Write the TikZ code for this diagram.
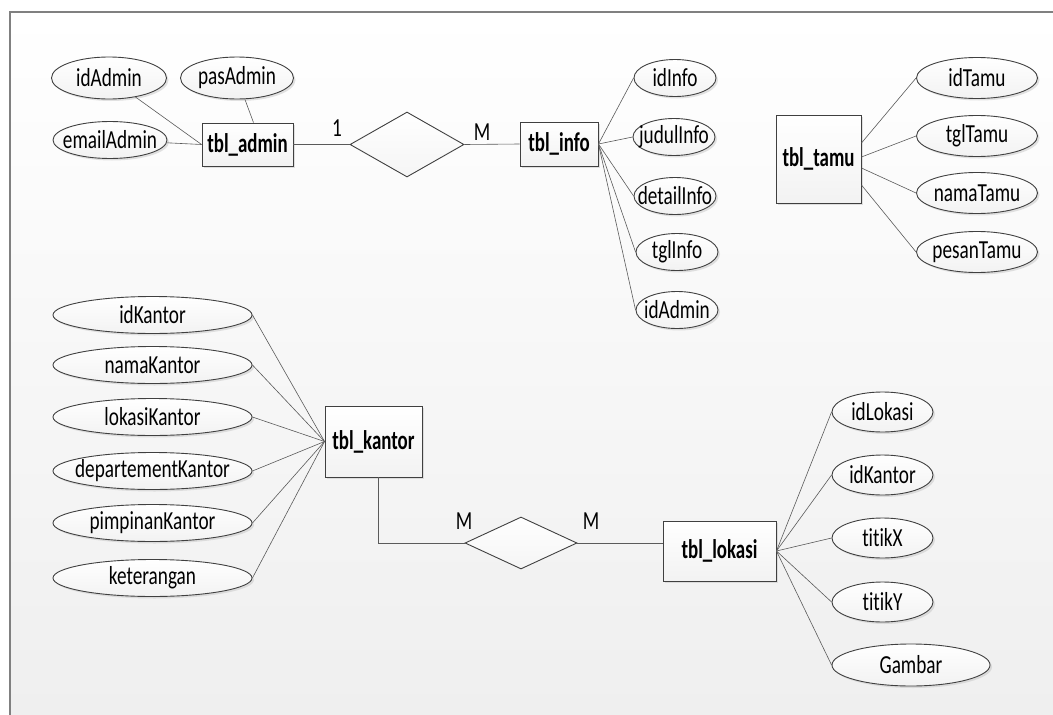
\documentclass[tikz,border=0pt]{standalone}
\usepackage{fontspec}
\setmainfont{Carlito}[FakeStretch=0.74, Ligatures=NoCommon]
\newfontfamily\entityfont{Carlito}[FakeStretch=0.70, Ligatures=NoCommon]
\usetikzlibrary{shapes.geometric,shadows}
% zero-width text so that an attribute ellipse keeps its set size
\newcommand{\attrtext}[1]{\makebox[0pt]{#1}}
\definecolor{edgegray}{RGB}{64,64,64}
\definecolor{linkgray}{RGB}{90,90,90}
\definecolor{framegray}{RGB}{128,128,128}
\definecolor{bglow}{RGB}{239,239,239}
\begin{document}
\begin{tikzpicture}[x=1pt,y=-1pt,
  every node/.style={font=\fontsize{26}{29}\selectfont, text=black},
  softshadow/.style={drop shadow={shadow xshift=2pt, shadow yshift=-2pt, fill=black!25, opacity=0.45}},
  entity/.style={rectangle, draw=edgegray, line width=0.9pt, top color=white, bottom color=black!5,
    inner sep=0pt, softshadow, font=\entityfont\fontsize{27}{30}\selectfont\bfseries},
  attr/.style={ellipse, draw=edgegray, line width=0.9pt, top color=white, bottom color=black!5,
    inner sep=0pt, softshadow},
  rel/.style={diamond, draw=edgegray, line width=0.9pt, top color=white, bottom color=black!4, inner sep=0pt},
  link/.style={draw=linkgray, line width=0.6pt},
  card/.style={inner sep=0pt}
]
\useasboundingbox (0,0) rectangle (1053,715);
% canvas
\shade[top color=white, bottom color=bglow] (10,12) rectangle (1053,715);
\draw[framegray, line width=1.3pt] (10,715) -- (10,12) -- (1053,12);

% ---- tbl_admin ----
\node[attr, minimum width=115, minimum height=42] (idAdmin) at (109,78) {\attrtext{idAdmin}};
\node[attr, minimum width=113, minimum height=42] (pasAdmin) at (237,78) {\attrtext{pasAdmin}};
\node[attr, minimum width=114, minimum height=37] (emailAdmin) at (110,140) {\attrtext{emailAdmin}};
\node[entity, minimum width=91, minimum height=43] (admin) at (247.5,144.5) {tbl\_admin};

% ---- relationship admin - info ----
\node[rel, minimum width=114, minimum height=65] (rel1) at (407,144.5) {};
\node[card] (c1) at (337,128) {1};
\node[card] (c2) at (482,132) {M};

% ---- tbl_info ----
\node[entity, minimum width=78, minimum height=44] (info) at (559,144) {tbl\_info};
\begin{scope}[every node/.append style={attr, minimum width=82, minimum height=37}]
\node (idInfo) at (675,78) {\attrtext{idInfo}};
\node (judulInfo) at (674,137) {\attrtext{judulInfo}};
\node (detailInfo) at (675,196) {\attrtext{detailInfo}};
\node (tglInfo) at (677,252) {\attrtext{tglInfo}};
\node (idAdminInfo) at (677,310) {\attrtext{idAdmin}};
\end{scope}

% ---- tbl_tamu ----
\node[entity, minimum width=85, minimum height=88] (tamu) at (818.5,159) {tbl\_tamu};
\begin{scope}[every node/.append style={attr, minimum width=121, minimum height=41}]
\node (idTamu) at (977,78) {\attrtext{idTamu}};
\node (tglTamu) at (977,136) {\attrtext{tglTamu}};
\node (namaTamu) at (977,193) {\attrtext{namaTamu}};
\node (pesanTamu) at (977,252) {\attrtext{pesanTamu}};
\end{scope}

% ---- tbl_kantor ----
\node[entity, minimum width=97, minimum height=71] (kantor) at (373.5,441.5) {tbl\_kantor};
\begin{scope}[every node/.append style={attr, minimum width=199, minimum height=37}]
\node (idKantor) at (152.5,315) {\attrtext{idKantor}};
\node (namaKantor) at (152.5,365) {\attrtext{namaKantor}};
\node (lokasiKantor) at (152.5,417) {\attrtext{lokasiKantor}};
\node (departementKantor) at (152.5,471) {\attrtext{departementKantor}};
\node (pimpinanKantor) at (152.5,523) {\attrtext{pimpinanKantor}};
\node (keterangan) at (152.5,578) {\attrtext{keterangan}};
\end{scope}

% ---- relationship kantor - lokasi ----
\node[rel, minimum width=112, minimum height=52] (rel2) at (521,543) {};
\node[card] (c3) at (464,521) {M};
\node[card] (c4) at (591,521) {M};

% ---- tbl_lokasi ----
\node[entity, minimum width=113, minimum height=60] (lokasi) at (719.5,551) {tbl\_lokasi};
\begin{scope}[every node/.append style={attr, minimum width=101, minimum height=40}]
\node (idLokasi) at (882.5,412) {\attrtext{idLokasi}};
\node (idKantorLok) at (882.5,475) {\attrtext{idKantor}};
\node (titikX) at (882.5,538) {\attrtext{titikX}};
\node (titikY) at (882.5,602) {\attrtext{titikY}};
\node[minimum width=158, minimum height=42] (gambar) at (911,665) {\attrtext{Gambar}};
\end{scope}

% ---- connectors ----
\draw[link] (idAdmin) -- (admin.west);
\draw[link] (emailAdmin) -- (admin.west);
\draw[link] (pasAdmin) -- ([xshift=6pt]admin.north);
\draw[link] (admin.east) -- (rel1.west);
\draw[link] (rel1.east) -- (info.west);
\foreach \a in {idInfo,judulInfo,detailInfo,tglInfo,idAdminInfo}
  \draw[link] (info.east) -- (\a.west);
\draw[link] ([yshift=16pt]tamu.east) -- (idTamu.west);
\draw[link] ([yshift=2pt]tamu.east) -- (tglTamu.west);
\draw[link] ([yshift=-9pt]tamu.east) -- (namaTamu.west);
\draw[link] ([yshift=-26pt]tamu.east) -- (pesanTamu.west);
\foreach \a in {idKantor,namaKantor,lokasiKantor,departementKantor,pimpinanKantor,keterangan}
  \draw[link] (\a.east) -- (kantor.west);
\draw[link] ([xshift=5pt]kantor.south) |- (rel2.west);
\draw[link] (rel2.east) -- (rel2.east -| lokasi.west);
\foreach \a in {idLokasi,idKantorLok,titikX,titikY,gambar}
  \draw[link] (lokasi.east) -- (\a.west);
\end{tikzpicture}
\end{document}
